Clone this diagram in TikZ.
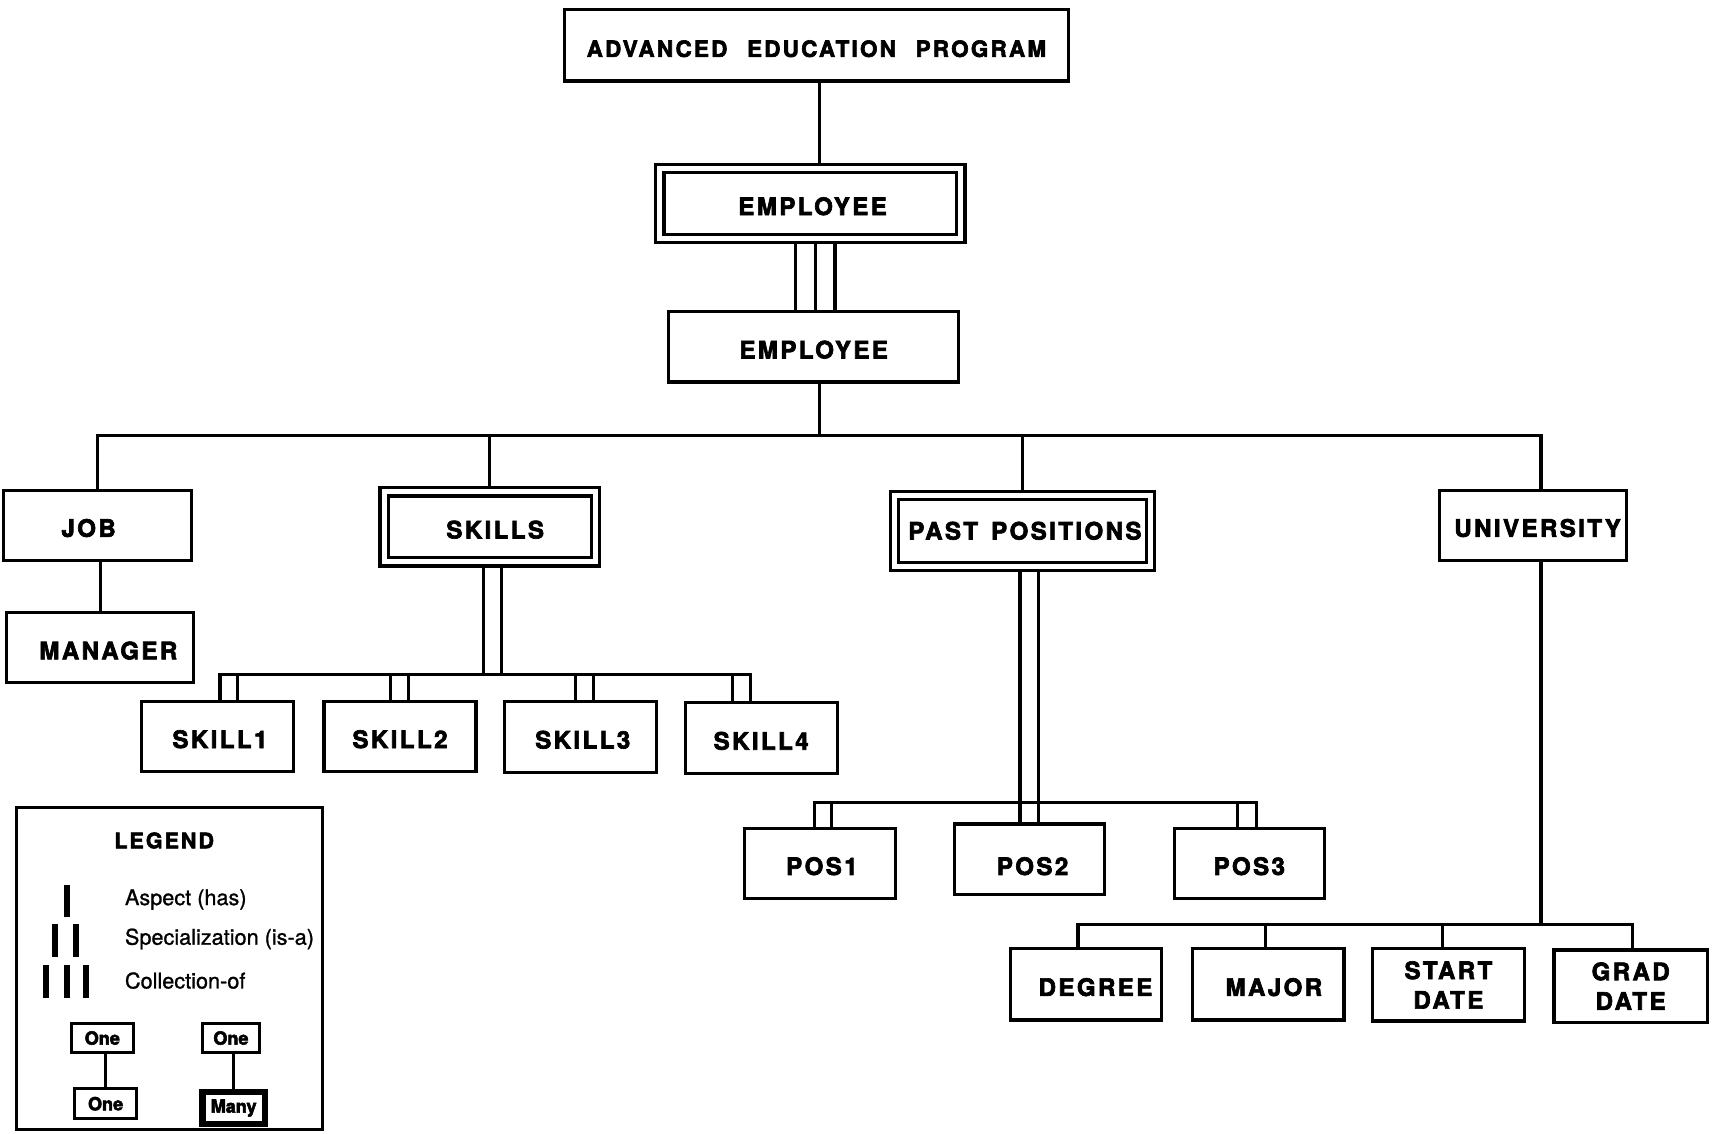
\documentclass[tikz,border=0pt]{standalone}
\usepackage{fontspec}
\setmainfont{TeX Gyre Heros}[BoldFeatures={FakeBold=3}]
\newfontfamily\labfont{TeX Gyre Heros}[LetterSpace=10, BoldFeatures={FakeBold=2.8}]
\newfontfamily\legfont{TeX Gyre Heros}[FakeBold=1]
\begin{document}
\begin{tikzpicture}[x=1pt,y=-1pt,
  lw/.style={line width=2.9pt},
  box/.style={draw, line width=2.9pt, inner sep=0pt, outer sep=0pt,
    font=\labfont\bfseries\fontsize{22}{27}\selectfont, align=center},
  lowtext/.style={text height=21pt, text depth=0pt},
  dbox/.style={box, double, double distance=4.6pt, outer sep=3.75pt},
  sbox/.style={draw, line width=2.7pt, inner sep=0pt, outer sep=0pt,
    minimum height=27pt, font=\bfseries\fontsize{16.5}{18}\selectfont},
  legtext/.style={anchor=west, inner sep=0pt, font=\legfont\fontsize{19.8}{22}\selectfont},
  legbar/.style={line width=5.5pt}
]
\useasboundingbox (0,0) rectangle (1568,1036);

% ---- top of the hierarchy ----
\node[box, lowtext, minimum width=460pt, minimum height=65pt,
  font=\labfont\bfseries\fontsize{20.5}{24}\selectfont] (aep) at (746,41.5)
  {ADVANCED\hspace{18pt}EDUCATION\hspace{18pt}PROGRAM};
\node[dbox, lowtext, minimum width=275pt, minimum height=64pt] (emp1) at (740.5,186) {\hspace*{4pt}EMPLOYEE};
\node[box, lowtext, minimum width=265pt, minimum height=64pt] (emp2) at (743.5,317) {EMPLOYEE};

% ---- second level ----
\node[box, lowtext, minimum width=172pt, minimum height=64pt] (job) at (89,480) {\hspace*{-16pt}JOB};
\node[box, lowtext, minimum width=171pt, minimum height=64pt] (mgr) at (91.5,592) {\hspace*{15pt}MANAGER};
\node[dbox, lowtext, minimum width=193pt, minimum height=64pt] (skills) at (447.5,481.5) {\hspace*{10pt}SKILLS};
\node[dbox, minimum width=234pt, minimum height=65pt] (pastpos) at (934.5,485) {\hspace*{4pt}PAST\hspace{12pt}POSITIONS};
\node[box, lowtext, minimum width=171pt, minimum height=64pt] (univ) at (1400.5,480) {\hspace*{9pt}UNIVERSITY};

% ---- skills ----
\node[box, lowtext, minimum width=139pt, minimum height=64pt] (s1) at (198.5,673) {\hspace*{5pt}SKILL1};
\node[box, lowtext, minimum width=139pt, minimum height=64pt] (s2) at (365.5,673) {SKILL2};
\node[box, lowtext, minimum width=139pt, minimum height=65pt] (s3) at (530.5,673.5) {\hspace*{4pt}SKILL3};
\node[box, lowtext, minimum width=139pt, minimum height=65pt] (s4) at (695.5,674.5) {SKILL4};

% ---- positions ----
\node[box, lowtext, minimum width=138pt, minimum height=64pt] (p1) at (749,789) {\hspace*{4pt}POS1};
\node[box, lowtext, minimum width=137pt, minimum height=64pt, text height=29pt] (p2) at (940.5,785) {\hspace*{6pt}POS2};
\node[box, lowtext, minimum width=137pt, minimum height=64pt] (p3) at (1141.5,789) {POS3};

% ---- university attributes ----
\node[box, lowtext, minimum width=138pt, minimum height=65pt] (deg) at (992,899.5) {\hspace*{18pt}DEGREE};
\node[box, lowtext, minimum width=138pt, minimum height=65pt] (maj) at (1159,899.5) {\hspace*{10pt}MAJOR};
\node[box, minimum width=139pt, minimum height=66pt] (start) at (1323.5,900) {START\\DATE};
\node[box, minimum width=140pt, minimum height=66pt] (grad) at (1490,901) {GRAD\\DATE};

% ---- connectors ----
\coordinate (hub) at (749,398);
\draw[lw] (aep.south -| hub) -- (emp1.north -| hub);
\foreach \dx in {-13.5,4.5,22.5}
  \draw[lw] ([xshift=\dx pt]emp1.south) -- ([xshift=\dx pt]emp1.south |- emp2.north);
\draw[lw] (emp2.south -| hub) -- (hub);
\coordinate (uTop) at ([xshift=7.5pt]univ.north);
\draw[lw] (job.north) -- (job.north |- hub) -- (uTop |- hub) -- (uTop);
\draw[lw] (skills.north) -- (skills.north |- hub);
\draw[lw] (pastpos.north) -- (pastpos.north |- hub);
\draw[lw] (mgr.north) -- (mgr.north |- job.south);

% skills: specialization
\coordinate (sbar) at (0,616);
\foreach \dx in {-5.5,10.5}
  \draw[lw] ([xshift=\dx pt]skills.south) -- ([xshift=\dx pt]skills.south |- sbar);
\draw[lw] ([xshift=2.5pt]s1.north) -- ([xshift=2.5pt]s1.north |- sbar)
  -- ([xshift=-9.5pt]s4.north |- sbar) -- ([xshift=-9.5pt]s4.north);
\draw[lw] ([xshift=18.5pt]s1.north) -- ([xshift=18.5pt]s1.north |- sbar);
\foreach \dx in {-8.5,7.5}
  \draw[lw] ([xshift=\dx pt]s2.north) -- ([xshift=\dx pt]s2.north |- sbar);
\foreach \dx in {-4.5,11.5}
  \draw[lw] ([xshift=\dx pt]s3.north) -- ([xshift=\dx pt]s3.north |- sbar);
\draw[lw] ([xshift=-26.5pt]s4.north) -- ([xshift=-26.5pt]s4.north |- sbar);

% past positions: specialization
\coordinate (pbar) at (0,733);
\foreach \dx in {-2.5,14.5}
  \draw[lw] ([xshift=\dx pt]pastpos.south) -- ([xshift=\dx pt]pastpos.south |- p2.north);
\draw[lw] ([xshift=-5pt]p1.north) -- ([xshift=-5pt]p1.north |- pbar)
  -- ([xshift=6.5pt]p3.north |- pbar) -- ([xshift=6.5pt]p3.north);
\draw[lw] ([xshift=11pt]p1.north) -- ([xshift=11pt]p1.north |- pbar);
\draw[lw] ([xshift=-10.5pt]p3.north) -- ([xshift=-10.5pt]p3.north |- pbar);

% university: aspects
\coordinate (ubar) at (0,845);
\draw[lw] ([xshift=7.5pt]univ.south) -- ([xshift=7.5pt]univ.south |- ubar);
\draw[lw] ([xshift=-7pt]deg.north) -- ([xshift=-7pt]deg.north |- ubar)
  -- ([xshift=2pt]grad.north |- ubar) -- ([xshift=2pt]grad.north);
\draw[lw] ([xshift=-3pt]maj.north) -- ([xshift=-3pt]maj.north |- ubar);
\draw[lw] ([xshift=-5.5pt]start.north) -- ([xshift=-5.5pt]start.north |- ubar);

% ---- legend ----
\node[draw, lw, minimum width=280pt, minimum height=294pt, inner sep=0pt] (legend) at (155,885) {};
\node[inner sep=0pt, font=\labfont\bfseries\fontsize{19.5}{21}\selectfont] (legtitle) at (150,768) {LEGEND};
\draw[legbar] (61,809) -- (61,838);
\draw[legbar] (50,844) -- (50,874);
\draw[legbar] (69.5,844) -- (69.5,874);
\draw[legbar] (42,882) -- (42,912);
\draw[legbar] (61,882) -- (61,912);
\draw[legbar] (79,882) -- (79,912);
\node[legtext] (lasp) at (114,822) {Aspect (has)};
\node[legtext] (lspec) at (114,858) {Specialization (is-a)};
\node[legtext] (lcoll) at (114,896) {Collection-of};

\node[sbox, minimum width=57pt] (one1) at (93.5,948.5) {One};
\node[sbox, minimum width=57pt] (one2) at (96.5,1008.5) {One};
\draw[lw] (one2.north) -- (one2.north |- one1.south);
\node[sbox, minimum width=52pt] (one3) at (211,948.5) {One};
\node[sbox, line width=6pt, minimum width=57pt, minimum height=29pt] (many) at (213.5,1012.5) {Many};
\draw[lw] (many.north) -- (many.north |- one3.south);
\end{tikzpicture}
\end{document}
